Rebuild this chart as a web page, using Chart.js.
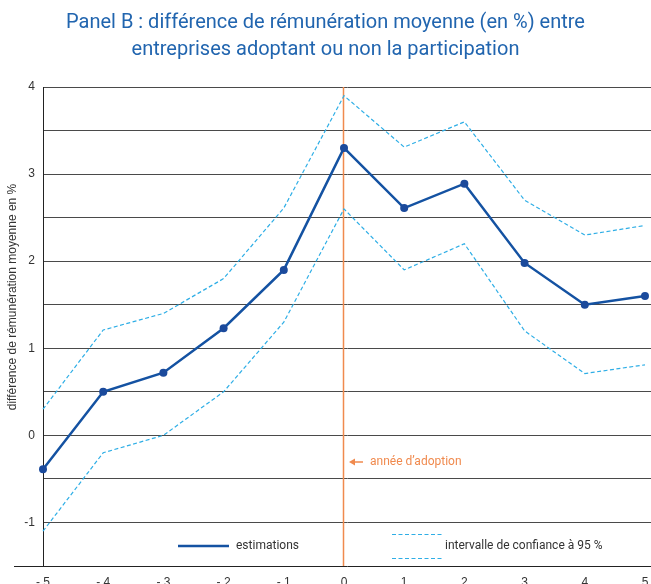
<!DOCTYPE html>
<html>
<head>
<meta charset="utf-8">
<script src="https://cdn.jsdelivr.net/npm/chart.js@4"></script>
<style>
html,body{margin:0;padding:0;background:#fff;}
#wrap{width:651px;height:584px;position:relative;}
</style>
</head>
<body>
<div id="wrap"><canvas id="c" width="651" height="584"></canvas></div>
<script>
const years = [-5, -4, -3, -2, -1, 0, 1, 2, 3, 4, 5];
const estimations = [-0.39, 0.5, 0.72, 1.23, 1.9, 3.3, 2.61, 2.89, 1.98, 1.5, 1.6];
const ciUpper = [0.3, 1.21, 1.4, 1.8, 2.61, 3.9, 3.31, 3.6, 2.7, 2.3, 2.41];
const ciLower = [-1.1, -0.2, 0.0, 0.5, 1.3, 2.6, 1.9, 2.2, 1.2, 0.71, 0.81];
const xTicks = [-5, -4, -3, -2, -1, 0, 1, 2, 3, 4, 5];
const yTicks = [-1, 0, 1, 2, 3, 4];
const titleLines = ["Panel B : différence de rémunération moyenne (en %) entre", "entreprises adoptant ou non la participation"];
const yTitle = "différence de rémunération moyenne en %";
const adoptionYear = 0;
const adoptionLabel = "année d’adoption";
const legendEst = "estimations";
const legendCI = "intervalle de confiance à 95 %";

const BLUE = '#1452a2';
const CYAN = '#2eaee6';
const ORANGE = '#f08a4e';
const TXT = '#333333';

const pts = a => years.map((x, i) => ({x: x, y: a[i]}));

const overlay = {
  id: 'overlay',
  beforeDatasetsDraw(chart) {
    const {ctx, chartArea, scales} = chart;
    const x0 = Math.round(scales.x.getPixelForValue(adoptionYear)) - 0.5;
    ctx.save();
    ctx.strokeStyle = ORANGE;
    ctx.lineWidth = 1.5;
    ctx.beginPath();
    ctx.moveTo(x0, chartArea.top);
    ctx.lineTo(x0, chartArea.bottom);
    ctx.stroke();
    // bottom axis extension to the left
    ctx.strokeStyle = '#222';
    ctx.lineWidth = 1;
    ctx.beginPath();
    ctx.moveTo(14, chartArea.bottom + 0.5);
    ctx.lineTo(chartArea.left, chartArea.bottom + 0.5);
    ctx.stroke();
    ctx.restore();
  },
  afterDraw(chart) {
    const {ctx, chartArea, scales} = chart;
    ctx.save();
    // y title
    ctx.fillStyle = TXT;
    ctx.font = '12px "Liberation Sans", Arial, sans-serif';
    ctx.textAlign = 'center';
    ctx.textBaseline = 'middle';
    ctx.translate(13, 297);
    ctx.rotate(-Math.PI / 2);
    ctx.fillText(yTitle, 0, 0);
    ctx.restore();

    // annotation
    ctx.save();
    const xa = scales.x.getPixelForValue(adoptionYear);
    const ya = 462;
    ctx.strokeStyle = ORANGE;
    ctx.fillStyle = ORANGE;
    ctx.lineWidth = 1.5;
    ctx.beginPath();
    ctx.moveTo(xa + 8, ya);
    ctx.lineTo(xa + 19, ya);
    ctx.stroke();
    ctx.beginPath();
    ctx.moveTo(xa + 5, ya);
    ctx.lineTo(xa + 11, ya - 3.5);
    ctx.lineTo(xa + 11, ya + 3.5);
    ctx.closePath();
    ctx.fill();
    ctx.font = '12px Roboto, sans-serif';
    ctx.textAlign = 'left';
    ctx.textBaseline = 'middle';
    ctx.fillText(adoptionLabel, xa + 26, ya);
    ctx.restore();

    // legend
    ctx.save();
    ctx.strokeStyle = BLUE;
    ctx.lineWidth = 2.5;
    ctx.beginPath();
    ctx.moveTo(178, 546);
    ctx.lineTo(229, 546);
    ctx.stroke();
    ctx.strokeStyle = CYAN;
    ctx.lineWidth = 1.2;
    ctx.setLineDash([4, 2.5]);
    ctx.beginPath();
    ctx.moveTo(392, 534.5); ctx.lineTo(443, 534.5);
    ctx.moveTo(392, 558.5); ctx.lineTo(443, 558.5);
    ctx.stroke();
    ctx.setLineDash([]);
    ctx.fillStyle = TXT;
    ctx.font = '12px Roboto, sans-serif';
    ctx.textAlign = 'left';
    ctx.textBaseline = 'middle';
    ctx.fillText(legendEst, 236, 546);
    ctx.fillText(legendCI, 445, 546);
    ctx.restore();
  }
};

new Chart(document.getElementById('c'), {
  type: 'line',
  data: {
    datasets: [
      {label: 'upper', data: pts(ciUpper), borderColor: CYAN, borderWidth: 1.2, borderDash: [4, 2.5], pointRadius: 0, fill: false, tension: 0},
      {label: 'lower', data: pts(ciLower), borderColor: CYAN, borderWidth: 1.2, borderDash: [4, 2.5], pointRadius: 0, fill: false, tension: 0},
      {label: legendEst, data: pts(estimations), borderColor: BLUE, borderWidth: 2.5, pointRadius: 4, pointBackgroundColor: '#1b4a9c', pointBorderColor: '#1b4a9c', pointBorderWidth: 0, fill: false, tension: 0}
    ]
  },
  options: {
    responsive: false,
    animation: false,
    devicePixelRatio: 1,
    clip: false,
    layout: {autoPadding: false, padding: {left: 0, right: 0, top: 0, bottom: 0}},
    plugins: {
      legend: {display: false},
      tooltip: {enabled: false},
      title: {
        display: true,
        text: titleLines,
        color: '#2165af',
        font: {family: 'Roboto, sans-serif', size: 20, weight: 'normal', lineHeight: 1.35},
        padding: {top: 9, bottom: 24}
      }
    },
    scales: {
      x: {
        type: 'linear',
        min: -5,
        max: 5.1,
        afterBuildTicks: s => { s.ticks = xTicks.map(v => ({value: v})); },
        afterFit: s => { s.height = 18; s.paddingLeft = 0; s.paddingRight = 0; },
        grid: {display: false, drawTicks: false},
        border: {display: true, color: '#222', width: 1},
        ticks: {
          color: TXT,
          padding: 9,
          maxRotation: 0,
          autoSkip: false,
          font: {family: '"Liberation Sans", Arial, sans-serif', size: 12},
          callback: v => v < 0 ? '- ' + Math.abs(v) : String(v)
        }
      },
      y: {
        min: -1.5,
        max: 4,
        afterBuildTicks: s => {
          const t = [];
          for (let v = -1; v <= 4.001; v += 0.5) t.push({value: Math.round(v * 10) / 10});
          s.ticks = t;
        },
        afterFit: s => { s.width = 43; s.paddingTop = 0; s.paddingBottom = 0; },
        grid: {color: '#4a4a4a', lineWidth: 1, drawTicks: false},
        border: {display: true, color: '#222', width: 1},
        ticks: {
          color: TXT,
          padding: 8,
          autoSkip: false,
          font: {family: '"Liberation Sans", Arial, sans-serif', size: 12},
          callback: v => yTicks.includes(v) ? String(v) : ''
        }
      }
    }
  },
  plugins: [overlay]
});
</script>
</body>
</html>
